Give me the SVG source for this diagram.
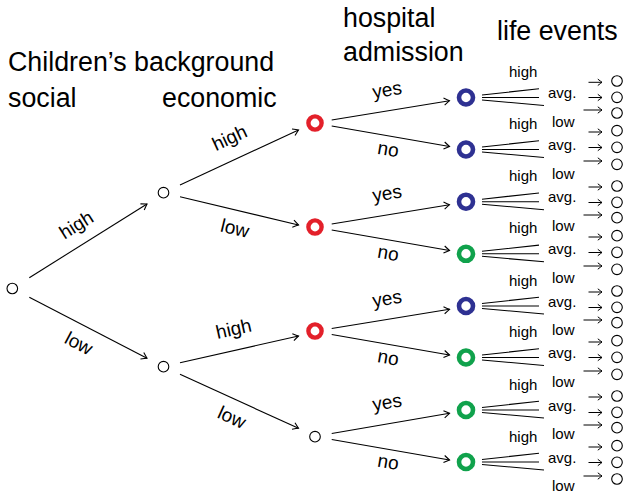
<svg xmlns="http://www.w3.org/2000/svg" width="626" height="495" viewBox="0 0 626 495">
<defs>
<style>
.t{font-family:"Liberation Sans",Arial,sans-serif;fill:#000}
.h{font-size:26.8px}
.e{font-size:19px;text-anchor:middle}
.s{font-size:15px}
.ln{stroke:#000;stroke-width:1.1;fill:none}
.ed{stroke:#000;stroke-width:1.1;fill:none;marker-end:url(#to)}
.lf path{stroke:#000;stroke-width:1;fill:none;marker-end:url(#to2)}
.plain{fill:#fff;stroke:#000;stroke-width:1.1}
.red{fill:#fff;stroke:#e3202a;stroke-width:4.4}
.blue{fill:#fff;stroke:#2e3192;stroke-width:4.6}
.green{fill:#fff;stroke:#10a24c;stroke-width:4.6}
</style>
<marker id="to" viewBox="-8 -5 10 10" refX="0" refY="0" markerWidth="10" markerHeight="10" markerUnits="userSpaceOnUse" orient="auto">
<path d="M-5.5,-3.6 Q-1.6,-1 0,0 Q-1.6,1 -5.5,3.6" fill="none" stroke="#000" stroke-width="1.1"/>
</marker>
<marker id="to2" viewBox="-8 -5 10 10" refX="0" refY="0" markerWidth="10" markerHeight="10" markerUnits="userSpaceOnUse" orient="auto">
<path d="M-4.2,-3.2 Q-1.2,-0.9 0,0 Q-1.2,0.9 -4.2,3.2" fill="none" stroke="#000" stroke-width="1"/>
</marker>
</defs>
<rect width="626" height="495" fill="#fff"/>

<g id="headers" class="t h">
<text x="8" y="71">Children’s background</text>
<text x="8" y="107">social</text>
<text x="162" y="107">economic</text>
<text x="343" y="27">hospital</text>
<text x="343" y="61">admission</text>
<text x="497" y="40">life events</text>
</g>

<g id="connectors">
<path class="ed" d="M29.3,277.7 L147,204"/>
<path class="ed" d="M29.3,297.3 L147,358.3"/>
<path class="ed" d="M180,185 L298.5,130"/>
<path class="ed" d="M180,196.7 L298.5,225"/>
<path class="ed" d="M180,362.7 L298.5,336"/>
<path class="ed" d="M180,374.3 L298.5,428.3"/>
<path class="ed" d="M331.7,120 L449.5,100.7"/>
<path class="ed" d="M331.7,126 L449.5,146.5"/>
<path class="ed" d="M331.7,224 L449.5,204.7"/>
<path class="ed" d="M331.7,230 L449.5,250.5"/>
<path class="ed" d="M331.7,328.5 L449.5,309.3"/>
<path class="ed" d="M331.7,334.5 L449.5,355"/>
<path class="ed" d="M331.7,433.5 L449.5,413.3"/>
<path class="ed" d="M331.7,439.5 L449.5,460"/>
<g id="fans" class="ln">
<path d="M482,95 L539,88.8 M482,97.5 L539,97.5 M482,100 L544,105.5"/>
<path d="M482,147 L539,140.8 M482,149.5 L539,149.5 M482,152 L544,157.5"/>
<path d="M482,199.2 L539,193 M482,201.7 L539,201.7 M482,204.2 L544,209.7"/>
<path d="M482,251.3 L539,245.1 M482,253.8 L539,253.8 M482,256.3 L544,261.8"/>
<path d="M482,303.5 L539,297.3 M482,306 L539,306 M482,308.5 L544,314"/>
<path d="M482,355 L539,348.8 M482,357.5 L539,357.5 M482,360 L544,365.5"/>
<path d="M482,407.5 L539,401.3 M482,410 L539,410 M482,412.5 L544,418"/>
<path d="M482,459.5 L539,453.3 M482,462 L539,462 M482,464.5 L544,470"/>
</g>
<g id="leafarrows" class="lf">
<path d="M588.5,82.3 H602"/><path d="M588.5,97.5 H602"/><path d="M583.5,110 H602"/>
<path d="M588.5,132 H602"/><path d="M588.5,147.5 H602"/><path d="M583.5,161 H602"/>
<path d="M588.5,187 H602"/><path d="M588.5,202.5 H602"/><path d="M583.5,215 H602"/>
<path d="M588.5,237 H602"/><path d="M588.5,252.5 H602"/><path d="M583.5,266 H602"/>
<path d="M588.5,292 H602"/><path d="M588.5,307.5 H602"/><path d="M583.5,320 H602"/>
<path d="M588.5,342 H602"/><path d="M588.5,357.5 H602"/><path d="M583.5,371 H602"/>
<path d="M588.5,397 H602"/><path d="M588.5,412.5 H602"/><path d="M583.5,425 H602"/>
<path d="M588.5,447 H602"/><path d="M588.5,462.5 H602"/><path d="M583.5,476 H602"/>
</g>
</g>

<g id="edge-labels" class="t e">
<text transform="translate(77,226) rotate(-32)" dy="0.27em">high</text>
<text transform="translate(79,343) rotate(27.5)" dy="0.36em">low</text>
<text transform="translate(230,139) rotate(-25)" dy="0.27em">high</text>
<text transform="translate(235,228) rotate(13.5)" dy="0.36em">low</text>
<text transform="translate(234,330) rotate(-12.7)" dy="0.27em">high</text>
<text transform="translate(232,417) rotate(24.5)" dy="0.36em">low</text>
<text transform="translate(387.5,93.3) rotate(-9.3)" dy="0.15em">yes</text>
<text transform="translate(388,150.7) rotate(9.6)" dy="0.26em">no</text>
<text transform="translate(387.5,196.7) rotate(-9.3)" dy="0.15em">yes</text>
<text transform="translate(388,254.5) rotate(9.6)" dy="0.26em">no</text>
<text transform="translate(387.5,302) rotate(-9.3)" dy="0.15em">yes</text>
<text transform="translate(388,359) rotate(9.6)" dy="0.26em">no</text>
<text transform="translate(387.5,405.8) rotate(-9.3)" dy="0.15em">yes</text>
<text transform="translate(388,463.3) rotate(9.6)" dy="0.26em">no</text>
</g>

<g id="fan-labels" class="t s">
<text x="509" y="77">high</text><text x="548" y="98">avg.</text><text x="552" y="126.5">low</text>
<text x="509" y="129">high</text><text x="548" y="150">avg.</text><text x="552" y="178.5">low</text>
<text x="509" y="181.2">high</text><text x="548" y="202.2">avg.</text><text x="552" y="230.7">low</text>
<text x="509" y="233.3">high</text><text x="548" y="254.3">avg.</text><text x="552" y="282.8">low</text>
<text x="509" y="285.5">high</text><text x="548" y="306.5">avg.</text><text x="552" y="335">low</text>
<text x="509" y="337">high</text><text x="548" y="358">avg.</text><text x="552" y="386.5">low</text>
<text x="509" y="389.5">high</text><text x="548" y="410.5">avg.</text><text x="552" y="439">low</text>
<text x="509" y="441.5">high</text><text x="548" y="462.5">avg.</text><text x="552" y="491">low</text>
</g>

<g id="n-root"><circle class="plain" cx="12.3" cy="288.5" r="5.3"/></g>
<g id="n-social-high"><circle class="plain" cx="163.5" cy="192.7" r="5.3"/></g>
<g id="n-social-low"><circle class="plain" cx="163.5" cy="366.7" r="5.3"/></g>
<g id="n-hh"><circle class="red" cx="315" cy="123" r="6.6"/></g>
<g id="n-hl"><circle class="red" cx="315" cy="227" r="6.6"/></g>
<g id="n-lh"><circle class="red" cx="315" cy="331" r="6.6"/></g>
<g id="n-ll"><circle class="plain" cx="315" cy="436.7" r="5.3"/></g>
<g id="n-hh-yes"><circle class="blue" cx="466" cy="97.5" r="7"/></g>
<g id="n-hh-no"><circle class="blue" cx="466" cy="149.5" r="7"/></g>
<g id="n-hl-yes"><circle class="blue" cx="466" cy="201.7" r="7"/></g>
<g id="n-hl-no"><circle class="green" cx="466" cy="253.8" r="7"/></g>
<g id="n-lh-yes"><circle class="blue" cx="466" cy="306" r="7"/></g>
<g id="n-lh-no"><circle class="green" cx="466" cy="357.5" r="7"/></g>
<g id="n-ll-yes"><circle class="green" cx="466" cy="410" r="7"/></g>
<g id="n-ll-no"><circle class="green" cx="466" cy="462" r="7"/></g>

<g id="leaves" class="plain">
<g id="leaf-1"><circle cx="617" cy="81" r="5.3"/></g>
<g id="leaf-2"><circle cx="617" cy="97.3" r="5.3"/></g>
<g id="leaf-3"><circle cx="617" cy="113" r="5.3"/></g>
<g id="leaf-4"><circle cx="617" cy="130.7" r="5.3"/></g>
<g id="leaf-5"><circle cx="617" cy="147.3" r="5.3"/></g>
<g id="leaf-6"><circle cx="617" cy="164.3" r="5.3"/></g>
<g id="leaf-7"><circle cx="617" cy="186" r="5.3"/></g>
<g id="leaf-8"><circle cx="617" cy="202.3" r="5.3"/></g>
<g id="leaf-9"><circle cx="617" cy="217.7" r="5.3"/></g>
<g id="leaf-10"><circle cx="617" cy="235.7" r="5.3"/></g>
<g id="leaf-11"><circle cx="617" cy="252.3" r="5.3"/></g>
<g id="leaf-12"><circle cx="617" cy="269.3" r="5.3"/></g>
<g id="leaf-13"><circle cx="617" cy="291" r="5.3"/></g>
<g id="leaf-14"><circle cx="617" cy="307.3" r="5.3"/></g>
<g id="leaf-15"><circle cx="617" cy="322.7" r="5.3"/></g>
<g id="leaf-16"><circle cx="617" cy="340.7" r="5.3"/></g>
<g id="leaf-17"><circle cx="617" cy="357.3" r="5.3"/></g>
<g id="leaf-18"><circle cx="617" cy="374.3" r="5.3"/></g>
<g id="leaf-19"><circle cx="617" cy="396" r="5.3"/></g>
<g id="leaf-20"><circle cx="617" cy="412.3" r="5.3"/></g>
<g id="leaf-21"><circle cx="617" cy="427.7" r="5.3"/></g>
<g id="leaf-22"><circle cx="617" cy="445.7" r="5.3"/></g>
<g id="leaf-23"><circle cx="617" cy="462.3" r="5.3"/></g>
<g id="leaf-24"><circle cx="617" cy="479" r="5.3"/></g>
</g>
</svg>
